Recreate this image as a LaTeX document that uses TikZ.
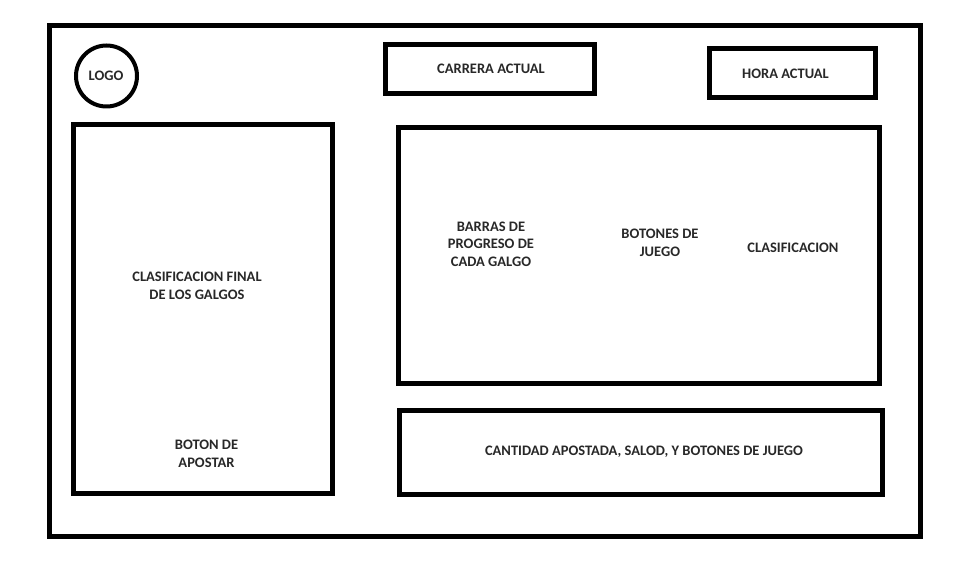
\documentclass[tikz,border=0pt]{standalone}
\usepackage{fontspec}
\setmainfont{Carlito}
\definecolor{txtgray}{RGB}{40,40,40}
\begin{document}
\begin{tikzpicture}[x=1pt,y=-1pt,
  frame/.style={draw=black,line width=5pt,rectangle,inner sep=0pt,outer sep=0pt},
  lbl/.style={font=\bfseries\fontsize{14.5}{17.5}\selectfont,text=txtgray,align=center,inner sep=0pt}]
\useasboundingbox[fill=white] (0,0) rectangle (969,577);
\node[frame,minimum width=871.5pt,minimum height=510.5pt] (outer) at (484.75,280.75) {};
\node[draw=black,line width=4pt,circle,minimum size=61pt,inner sep=0pt] (logo) at (106.5,76) {};
\node[lbl] (logot) at (106,76) {LOGO};
\node[frame,minimum width=209pt,minimum height=49pt] (carrera) at (490,69) {};
\node[lbl] (carrerat) at (491,69) {CARRERA ACTUAL};
\node[frame,minimum width=166pt,minimum height=49.5pt] (hora) at (792.5,73.25) {};
\node[lbl] (horat) at (785.5,74) {HORA ACTUAL};
\node[frame,minimum width=259pt,minimum height=369pt] (left) at (203,309) {};
\node[lbl] (clasfinal) at (197,286) {CLASIFICACION FINAL\\DE LOS GALGOS};
\node[lbl] (boton) at (206.5,454) {BOTON DE\\APOSTAR};
\node[frame,minimum width=481pt,minimum height=255.5pt] (middle) at (638.5,255.75) {};
\node[lbl] (barras) at (491,244) {BARRAS DE\\PROGRESO DE\\CADA GALGO};
\node[lbl] (botones) at (660,243) {BOTONES DE\\JUEGO};
\node[lbl] (clas) at (793,247.5) {CLASIFICACION};
\node[frame,minimum width=483pt,minimum height=84pt] (bottom) at (640.5,452.5) {};
\node[lbl] (cantidad) at (644,452) {CANTIDAD APOSTADA, SALOD, Y BOTONES DE JUEGO};
\end{tikzpicture}
\end{document}
